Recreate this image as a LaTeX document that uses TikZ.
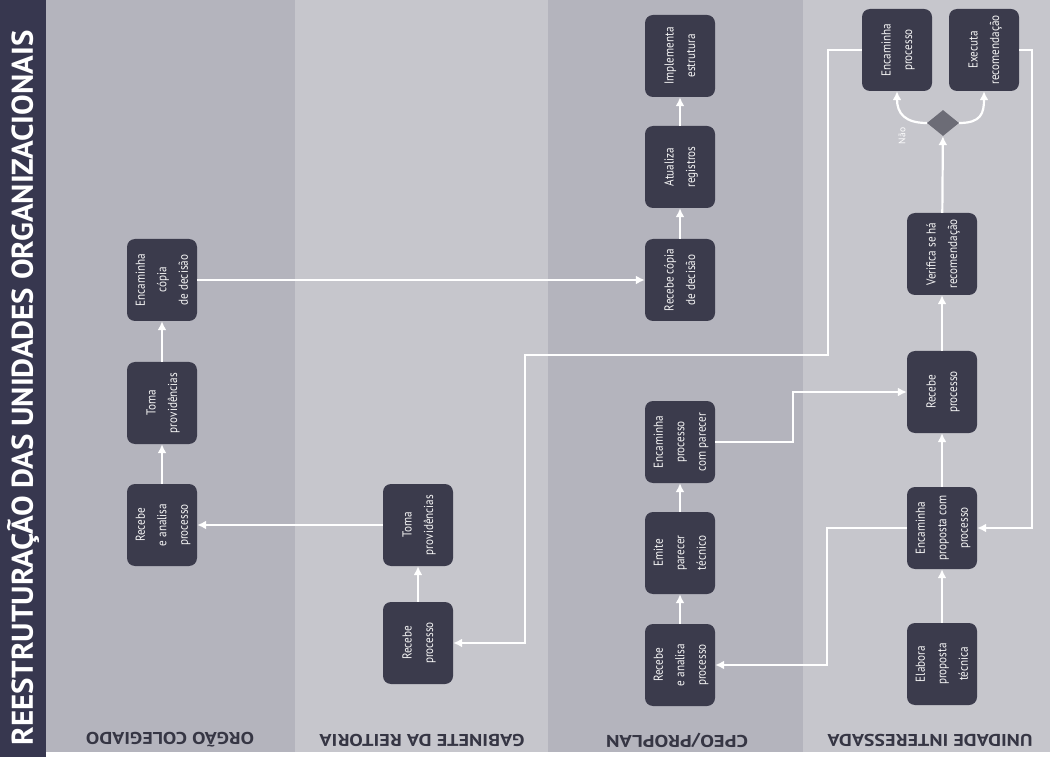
\documentclass[tikz,border=0pt]{standalone}
\usepackage{fontspec}
\setmainfont{PT Sans}
\usetikzlibrary{shapes.geometric,arrows.meta,calc}
\definecolor{lanedark}{HTML}{B4B4BD}
\definecolor{lanelight}{HTML}{C6C6CC}
\definecolor{nodefill}{HTML}{3B3B4C}
\definecolor{titlebar}{HTML}{37374F}
\definecolor{diafill}{HTML}{6C6C76}
\definecolor{labtext}{HTML}{363644}
\newcommand{\rtxt}[1]{\rotatebox{90}{\scalebox{0.86}[1]{\begin{tabular}{@{}c@{}}#1\end{tabular}}}}
\begin{document}
\begin{tikzpicture}[x=1pt,y=-1pt,
  proc/.style={fill=nodefill, rounded corners=8pt, minimum width=70pt, minimum height=82pt,
    inner sep=0pt, text=white!92!gray, font=\fontsize{13}{21.5}\selectfont},
  arr/.style={draw=white, line width=2.2pt, -{Latex[length=9pt,width=9pt]}},
  lanelabel/.style={rotate=180, text=labtext, font=\fontsize{17}{17}\selectfont\bfseries},
  dec/.style={diamond, fill=diafill, minimum width=32pt, minimum height=26pt, inner sep=0pt}
]
\useasboundingbox (0,0) rectangle (1050,767);
\fill[white] (0,0) rectangle (1050,767);
% lanes
\fill[lanedark]  (45,0) rectangle (295,752);
\fill[lanelight] (295,0) rectangle (548,752);
\fill[lanedark]  (548,0) rectangle (803,752);
\fill[lanelight] (803,0) rectangle (1050,752);
% title bar
\fill[titlebar] (0,0) rectangle (46,757);
\node[rotate=90, text=white, inner sep=0pt, font=\fontsize{30}{30}\selectfont\bfseries] (title) at (23,388)
  {\resizebox{715pt}{\height}{REESTRUTURAÇÃO DAS UNIDADES ORGANIZACIONAIS}};
% lane labels
\node[lanelabel] (l1) at (170,740) {\resizebox{168pt}{\height}{ORGÃO COLEGIADO}};
\node[lanelabel] (l2) at (422,740) {\resizebox{205pt}{\height}{GABINETE DA REITORIA}};
\node[lanelabel] (l3) at (677,740) {\resizebox{142pt}{\height}{CPEO/PROPLAN}};
\node[lanelabel] (l4) at (930,740) {\resizebox{205pt}{\height}{UNIDADE INTERESSADA}};
% Orgao colegiado
\node[proc] (orc)  at (162,525) {\rtxt{Recebe\\e analisa\\processo}};
\node[proc] (otp)  at (162,403) {\rtxt{Toma\\providências}};
\node[proc] (oenc) at (162,280) {\rtxt{Encaminha\\cópia\\de decisão}};
% Gabinete
\node[proc] (grp) at (418,643) {\rtxt{Recebe\\processo}};
\node[proc] (gtp) at (418,525) {\rtxt{Toma\\providências}};
% CPEO
\node[proc] (crap) at (680,665) {\rtxt{Recebe\\e analisa\\processo}};
\node[proc] (cem)  at (680,553) {\rtxt{Emite\\parecer\\técnico}};
\node[proc] (cenc) at (680,442) {\rtxt{Encaminha\\processo\\com parecer}};
\node[proc] (crc)  at (680,280) {\rtxt{Recebe cópia\\de decisão}};
\node[proc] (cat)  at (680,167) {\rtxt{Atualiza\\registros}};
\node[proc] (cimp) at (680,56)  {\rtxt{Implementa\\estrutura}};
% Unidade
\node[proc] (uel)  at (942,664) {\rtxt{Elabora\\proposta\\técnica}};
\node[proc] (uep)  at (942,528) {\rtxt{Encaminha\\proposta com\\processo}};
\node[proc] (urp)  at (942,392) {\rtxt{Recebe\\processo}};
\node[proc] (uver) at (942,254) {\rtxt{Verifica se há\\recomendação}};
\node[dec]  (dia)  at (943,123) {};
\node[proc] (uenc) at (897,50)  {\rtxt{Encaminha\\processo}};
\node[proc] (uexe) at (984,50)  {\rtxt{Executa\\recomendação}};
\node[rotate=90, text=white, font=\fontsize{9.5}{9.5}\selectfont, inner sep=0pt] (nao) at (902,136) {Não};
% connectors
\draw[arr] (orc) -- (otp);
\draw[arr] (otp) -- (oenc);
\draw[arr] (oenc) -- (crc);
\draw[arr] (grp) -- (gtp);
\draw[arr] (gtp) -- (orc);
\draw[arr] (crap) -- (cem);
\draw[arr] (cem) -- (cenc);
\draw[arr] (crc) -- (cat);
\draw[arr] (cat) -- (cimp);
\draw[arr] (uel) -- (uep);
\draw[arr] (uep) -- (urp);
\draw[arr] (urp) -- (uver);
\draw[arr] (uver) -- (dia);
\draw[arr] (dia.west) .. controls +(-22,0) and +(0,22) .. (uenc.south);
\draw[arr] (dia.east) .. controls +(22,0) and +(0,22) .. (uexe.south);
\draw[arr] (uep.west) -- ++(-80,0) |- (crap.east);
\draw[arr] (uexe.east) -- ++(13,0) |- (uep.east);
\draw[arr] (cenc.east) -- ++(78,0) |- (urp.west);
\coordinate (j1) at (828,355);
\coordinate (j2) at (525,355);
\draw[arr] (uenc.west) -| (j1) -- (j2) |- (grp.east);
\end{tikzpicture}
\end{document}
